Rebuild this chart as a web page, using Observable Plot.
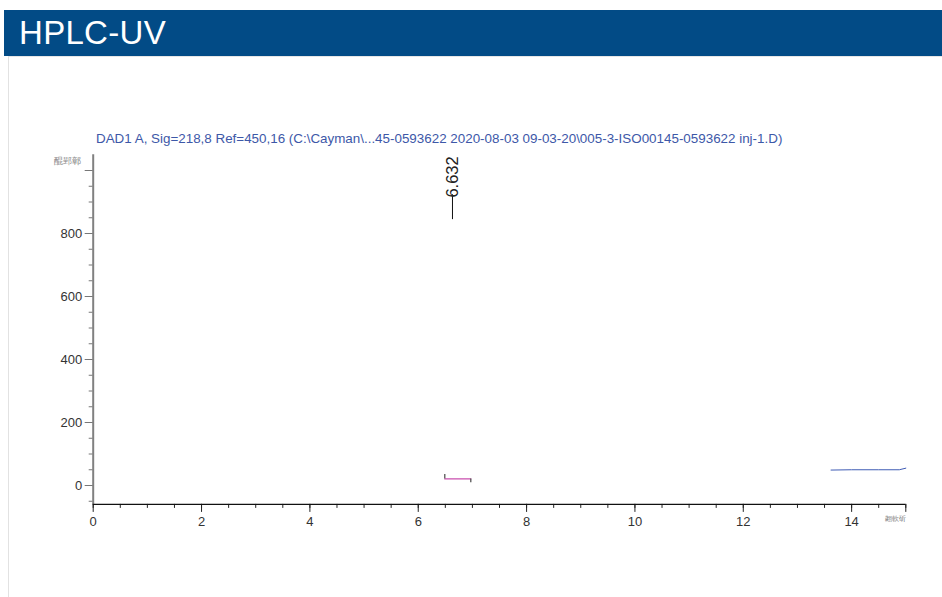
<!DOCTYPE html>
<html>
<head>
<meta charset="utf-8">
<script src="https://cdn.jsdelivr.net/npm/d3@7"></script>
<script src="https://cdn.jsdelivr.net/npm/@observablehq/plot@0.6"></script>
<style>
  html, body { margin: 0; padding: 0; background: #fff; }
  body { width: 942px; height: 597px; position: relative; overflow: hidden; font-family: "Liberation Sans", Arial, sans-serif; }
  #header { position: absolute; left: 4px; top: 10px; width: 938px; height: 46px; background: #024b86; color: #fff; font-size: 33px; line-height: 46px; padding-left: 15px; box-sizing: border-box; letter-spacing: 0.3px; }
  #panel { position: absolute; left: 8px; top: 56px; width: 934px; height: 541px; border-left: 1.5px solid #e2e2e2; border-top: 1px solid #e6e6e6; box-sizing: border-box; }
  #subtitle { position: absolute; left: 96px; top: 131px; font-size: 13.4px; color: #3d58a8; white-space: nowrap; }
  #chart { position: absolute; left: 0; top: 56px; }
</style>
</head>
<body>
<div id="header">HPLC-UV</div>
<div id="panel"></div>
<div id="subtitle"></div>
<div id="chart"></div>
<script>
const title = "HPLC-UV";
const subtitle = "DAD1 A, Sig=218,8 Ref=450,16 (C:\\Cayman\\...45-0593622 2020-08-03 09-03-20\\005-3-ISO00145-0593622 inj-1.D)";
const yUnit = "醌郢鄣";
const xUnit = "翽軟斫";

// axis ticks
const xMajorTicks = [0, 2, 4, 6, 8, 10, 12, 14];
const xEndTick = [15];
const xMinorTicks = d3.range(0, 15.01, 0.5);
const yLabelTicks = [0, 200, 400, 600, 800];
const yMajorUnlabeled = [1000];
const yMinorTicks = d3.range(-50, 1001, 50);

// peak annotation
const peakRT = [6.632];
const peakLabels = ["6.632"];
const peakMarkerBottom = [844];
const peakMarkerTop = [923];
const peakLabelStart = [914];

// integration baseline (magenta) and its end ticks
const baseX = [6.49, 6.97];
const baseY = [21, 21];
const baseTickX = [6.49, 6.97];
const baseTickY1 = [35, 21];
const baseTickY2 = [21, 9];

// blue trace segment at the end of the run
const traceX = [13.62, 14.0, 14.5, 14.88, 15.0];
const traceY = [49, 50, 50, 50, 55];

document.getElementById("header").textContent = title;
document.getElementById("subtitle").textContent = subtitle;

const baseline = baseX.map((x, i) => ({x, y: baseY[i]}));
const baseTicks = baseTickX.map((x, i) => ({x, y1: baseTickY1[i], y2: baseTickY2[i]}));
const trace = traceX.map((x, i) => ({x, y: traceY[i]}));
const peaks = peakRT.map((x, i) => ({x, label: peakLabels[i], y1: peakMarkerBottom[i], y2: peakMarkerTop[i], yl: peakLabelStart[i]}));

const chart = Plot.plot({
  width: 942,
  height: 541,
  marginLeft: 92.7,
  marginRight: 36.7,
  marginTop: 98.25,
  marginBottom: 93.1,
  style: {background: "transparent", overflow: "visible", fontFamily: "'Liberation Sans', Arial, sans-serif", fontSize: "13px", color: "#333"},
  x: {domain: [0, 15], axis: null},
  y: {domain: [-60, 1050], axis: null},
  marks: [
    // y axis ticks
    Plot.axisY({ticks: yMinorTicks, tickSize: 4, tickFormat: () => "", stroke: "#777", anchor: "left", label: null}),
    Plot.axisY({ticks: yMajorUnlabeled, tickSize: 8, tickFormat: () => "", stroke: "#777", anchor: "left", label: null}),
    Plot.axisY({ticks: yLabelTicks, tickSize: 8, tickPadding: 3, stroke: "#777", fill: "#333", fontSize: 13, anchor: "left", label: null}),
    // x axis ticks
    Plot.axisX({ticks: xMinorTicks, tickSize: 4, tickFormat: () => "", stroke: "#222", anchor: "bottom", label: null}),
    Plot.axisX({ticks: xEndTick, tickSize: 8, tickFormat: () => "", stroke: "#222", anchor: "bottom", label: null}),
    Plot.axisX({ticks: xMajorTicks, tickSize: 8, tickPadding: 4, stroke: "#222", fill: "#333", fontSize: 13, anchor: "bottom", label: null}),
    // axis lines
    Plot.ruleX([0], {y1: -60, y2: 1050, stroke: "#808080", strokeWidth: 2}),
    Plot.ruleY([-60], {stroke: "#111", strokeWidth: 1.2}),
    // unit labels
    Plot.text([yUnit], {x: () => 0, y: () => 1000, text: d => d, dx: -12.5, dy: -9, textAnchor: "end", fontSize: 9, fill: "#8a8a8a"}),
    Plot.text([xUnit], {x: () => 15, y: () => -60, text: d => d, dx: 0, dy: 14, textAnchor: "end", fontSize: 7, fill: "#8a8a8a"}),
    // integration baseline
    Plot.line(baseline, {x: "x", y: "y", stroke: "#c94fae", strokeWidth: 1.3}),
    Plot.ruleX(baseTicks, {x: "x", y1: "y1", y2: "y2", stroke: "#555", strokeWidth: 1.3}),
    // trace
    Plot.line(trace, {x: "x", y: "y", stroke: "#3f5cb5", strokeWidth: 1}),
    // peak marker + label
    Plot.ruleX(peaks, {x: "x", y1: "y1", y2: "y2", stroke: "#111", strokeWidth: 1}),
    Plot.text(peaks, {x: "x", y: "yl", text: "label", rotate: -90, textAnchor: "start", lineAnchor: "middle", fontSize: 16.5, fill: "#222"})
  ]
});
document.getElementById("chart").appendChild(chart);
</script>
</body>
</html>
